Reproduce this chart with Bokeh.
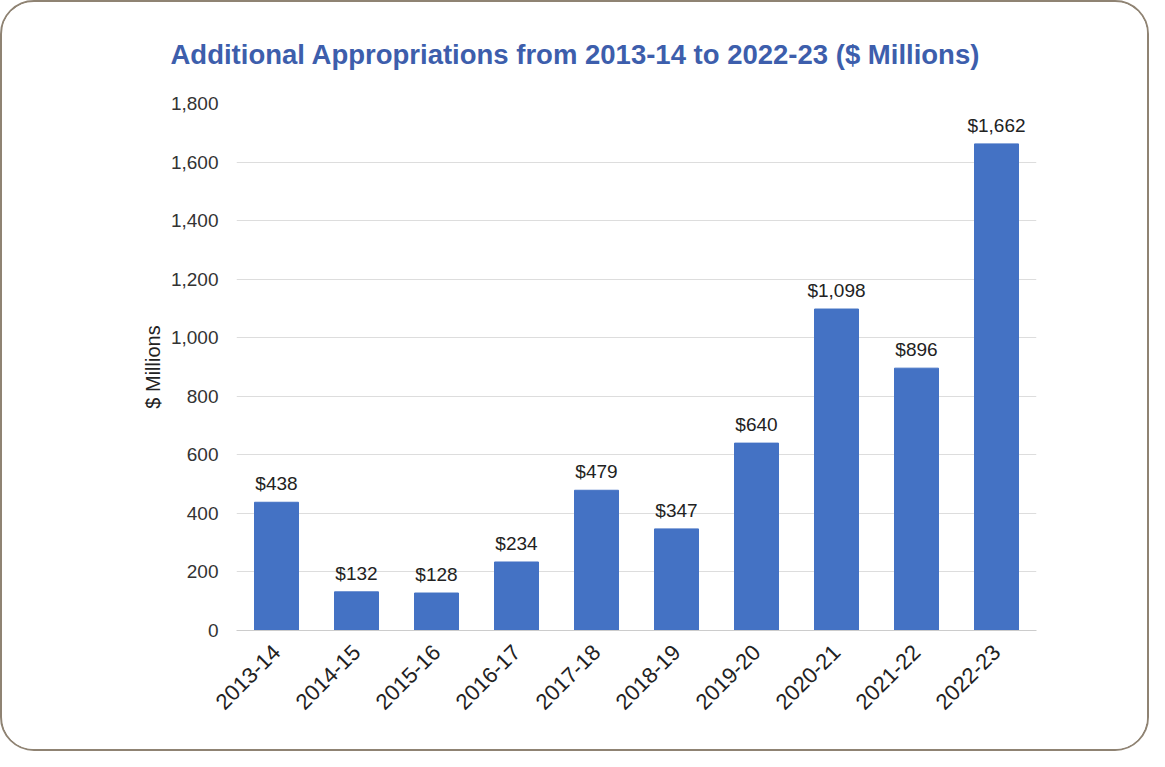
import math
from bokeh.plotting import figure
from bokeh.models import ColumnDataSource, FactorRange, Range1d, NumeralTickFormatter, FixedTicker
from bokeh.embed import file_html
from bokeh.resources import INLINE
from bokeh.core.properties import value

years = ["2013-14", "2014-15", "2015-16", "2016-17", "2017-18",
         "2018-19", "2019-20", "2020-21", "2021-22", "2022-23"]
amounts = [438, 132, 128, 234, 479, 347, 640, 1098, 896, 1662]
y_ticks = [0, 200, 400, 600, 800, 1000, 1200, 1400, 1600, 1800]
labels = ["${:,}".format(v) for v in amounts]

src = ColumnDataSource(dict(x=years, top=amounts, lab=labels))

FONT = "Liberation Sans"

p = figure(x_range=FactorRange(*years, range_padding=0),
           y_range=Range1d(0, 1800),
           width=1149, height=751,
           output_backend="svg", toolbar_location=None,
           min_border_left=234, min_border_right=115,
           min_border_top=101, min_border_bottom=123,
           title="Additional Appropriations from 2013-14 to 2022-23 ($ Millions)")

p.styles = {"border": "2px solid #8f8373", "border-radius": "34px", "overflow": "hidden"}

p.title.text_font = FONT
p.title.text_font_size = "27.5px"
p.title.text_font_style = "bold"
p.title.text_color = "#3d5eac"
p.title.align = "left"
p.title.offset = -66
p.title.standoff = 68

p.vbar(x="x", top="top", width=0.55, source=src, color="#4472c4", line_color="#4472c4")
p.text(x="x", y="top", text="lab", source=src, text_align="center", text_baseline="bottom",
       y_offset=-8, text_font=value(FONT), text_font_size="19px", text_color="#222222")

p.outline_line_color = None
p.xgrid.grid_line_color = None
p.ygrid.grid_line_color = "#dddddd"
p.ygrid.grid_line_width = 1

p.yaxis.ticker = FixedTicker(ticks=y_ticks)
p.yaxis.formatter = NumeralTickFormatter(format="0,0")
p.yaxis.axis_line_color = None
p.yaxis.major_tick_line_color = None
p.yaxis.minor_tick_line_color = None
p.yaxis.major_label_text_font = FONT
p.yaxis.major_label_text_font_size = "19px"
p.yaxis.major_label_text_color = "#333333"
p.yaxis.major_label_standoff = 12
p.yaxis.axis_label = "$ Millions"
p.yaxis.axis_label_text_font = FONT
p.yaxis.axis_label_text_font_size = "20px"
p.yaxis.axis_label_text_font_style = "normal"
p.yaxis.axis_label_text_color = "#222222"
p.yaxis.axis_label_standoff = 4

p.xaxis.axis_line_color = "#cccccc"
p.xaxis.major_tick_line_color = None
p.xaxis.minor_tick_line_color = None
p.xaxis.major_label_orientation = math.pi / 4
p.xaxis.major_label_text_font = FONT
p.xaxis.major_label_text_font_size = "22px"
p.xaxis.major_label_text_color = "#222222"
p.xaxis.major_label_standoff = 12

open("out.html", "w").write(file_html(p, INLINE))
